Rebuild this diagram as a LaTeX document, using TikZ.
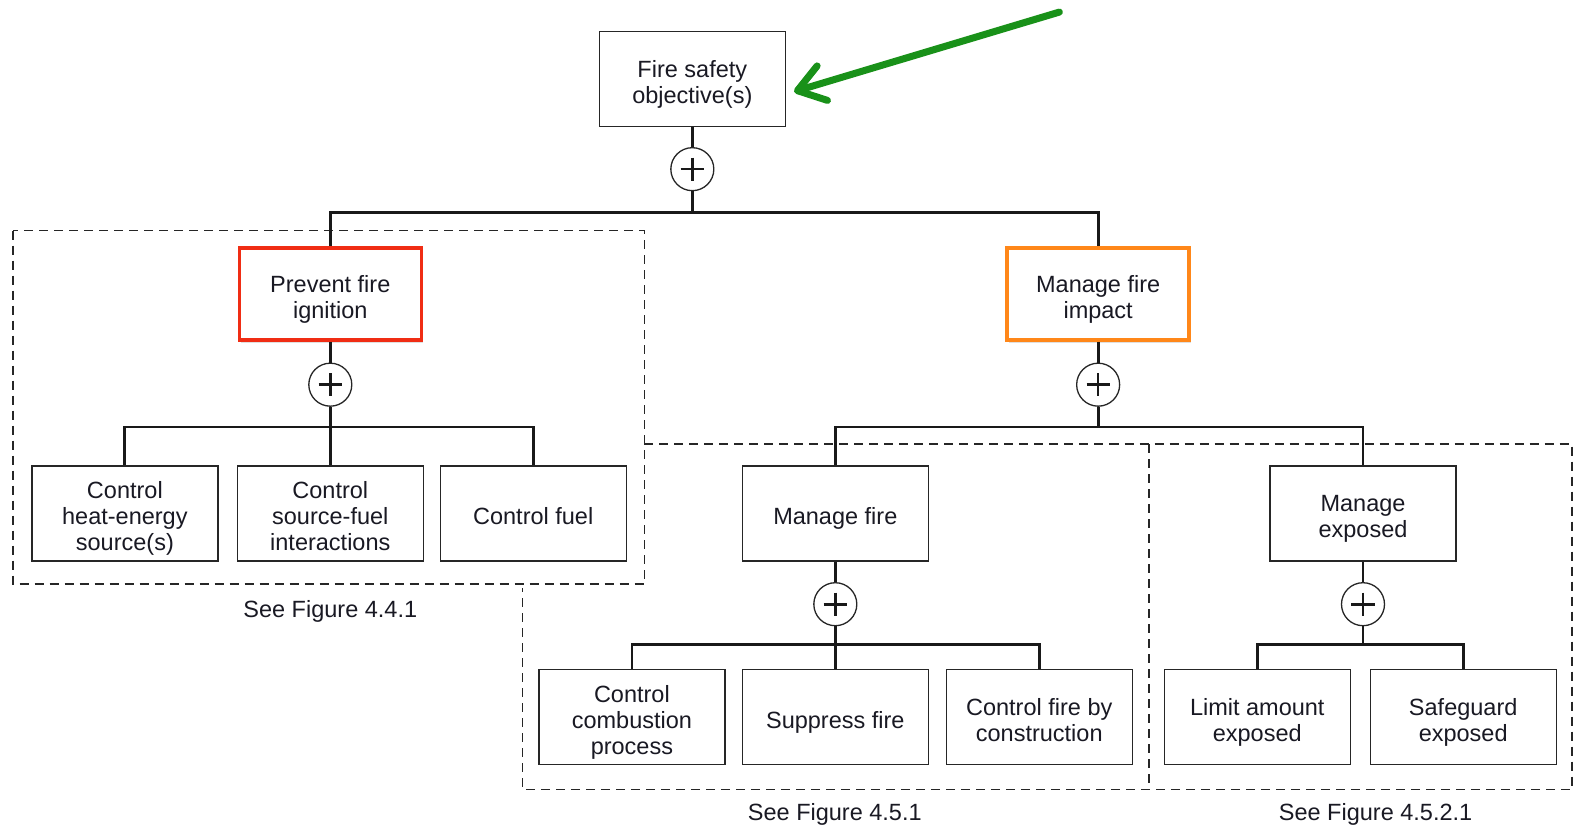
\documentclass[tikz,border=0pt]{standalone}
\usepackage{fontspec}
\setmainfont{Liberation Sans}
\usetikzlibrary{arrows.meta,shadows,calc}
\definecolor{redb}{RGB}{240,45,20}
\definecolor{orangeb}{RGB}{255,135,25}
\definecolor{greenarr}{RGB}{25,145,25}
\definecolor{txt}{RGB}{25,25,35}
\newcommand{\mltext}[1]{\raisebox{-6pt}[\height][\depth]{\begin{tabular}{@{}c@{}}#1\end{tabular}}}
\begin{document}
\begin{tikzpicture}[x=1.00702pt,y=-1.00702pt,
  every node/.style={font=\fontsize{23.5}{26}\selectfont, text=txt},
  box/.style={draw=black!85, line width=1.3pt, fill=white, minimum width=186pt, minimum height=95pt, align=center, inner sep=2pt},
  hlbox/.style={box, line width=3.6pt, minimum width=182pt, minimum height=92pt,
     drop shadow={shadow xshift=1.5pt, shadow yshift=-2.5pt, opacity=0.25}},
  plus/.style={circle, draw=black!85, line width=1.3pt, fill=white, minimum size=43pt, inner sep=0pt,
     path picture={\draw[line width=2.6pt, black!90] (path picture bounding box.center) ++(-11.5,0) -- ++(23,0)
        (path picture bounding box.center) ++(0,-11.5) -- ++(0,23);}},
  conn/.style={line width=2.8pt, black!90},
  dbox/.style={line width=1.2pt, black!85, dash pattern=on 9pt off 6pt},
  captext/.style={inner sep=0pt}
]
\useasboundingbox (0,0) rectangle (1568,823);

% dashed group outlines
\draw[dbox] (13,229) rectangle (640,580);
\draw[dbox] (640,441) -- (1561,441) -- (1561,784) -- (519,784) -- (519,584);
\draw[dbox] (1141,441) -- (1141,784);

% nodes
\node[box] (top) at (687.5,78.5) {\mltext{Fire safety\\objective(s)}};
\node[plus] (p0) at (687.5,168) {};
\node[hlbox, draw=redb] (prev) at (328,292) {\mltext{Prevent fire\\ignition}};
\node[hlbox, draw=orangeb] (imp) at (1090.5,292) {\mltext{Manage fire\\impact}};
\node[plus] (p1) at (328,382) {};
\node[plus] (p2) at (1090.5,382) {};

\node[box] (h1) at (124,510) {\mltext{Control\\heat-energy\\source(s)}};
\node[box] (h2) at (328,510) {\mltext{Control\\source-fuel\\interactions}};
\node[box] (h3) at (529.5,510) {\mltext{Control fuel}};

\node[box] (mf) at (829.5,510) {\mltext{Manage fire}};
\node[box] (me) at (1353.5,510) {\mltext{Manage\\exposed}};
\node[plus] (p3) at (829.5,600) {};
\node[plus] (p4) at (1353.5,600) {};

\node[box] (c1) at (627.5,712) {\mltext{Control\\combustion\\process}};
\node[box] (c2) at (829.5,712) {\mltext{Suppress fire}};
\node[box] (c3) at (1032,712) {\mltext{Control fire by\\construction}};
\node[box] (l1) at (1248.5,712) {\mltext{Limit amount\\exposed}};
\node[box] (l2) at (1453,712) {\mltext{Safeguard\\exposed}};

\node[captext] (cap1) at (328,607) {See Figure 4.4.1};
\node[captext] (cap2) at (829,809) {See Figure 4.5.1};
\node[captext] (cap3) at (1366,809) {See Figure 4.5.2.1};

% bar junctions
\coordinate (b0) at (687.5,211);
\coordinate (b1) at (328,424);
\coordinate (b2) at (1090.5,424);
\coordinate (b3) at (829.5,640);
\coordinate (b4) at (1353.5,640);

% connectors
\draw[conn] (top.south) -- (p0.north);
\draw[conn] (p0.south) -- (b0) -| (prev.north);
\draw[conn] (b0) -| (imp.north);

\draw[conn] (prev.south) -- (p1.north);
\draw[conn] (p1.south) -- (b1) -| (h1.north);
\draw[conn] (b1) -- (h2.north);
\draw[conn] (b1) -| (h3.north);

\draw[conn] (imp.south) -- (p2.north);
\draw[conn] (p2.south) -- (b2) -| (mf.north);
\draw[conn] (b2) -| (me.north);

\draw[conn] (mf.south) -- (p3.north);
\draw[conn] (p3.south) -- (b3) -| (c1.north);
\draw[conn] (b3) -- (c2.north);
\draw[conn] (b3) -| (c3.north);

\draw[conn] (me.south) -- (p4.north);
\draw[conn] (p4.south) -- (b4) -| (l1.north);
\draw[conn] (b4) -| (l2.north);

% green pointer arrow
\coordinate (gs) at (1052,12);
\coordinate (gt) at ($(top.east)+(8,12.5)$);
\draw[greenarr, line width=7pt, line cap=round,
  -{Straight Barb[length=26pt,width=36pt,round]}] (gs) -- (gt);
\end{tikzpicture}
\end{document}
